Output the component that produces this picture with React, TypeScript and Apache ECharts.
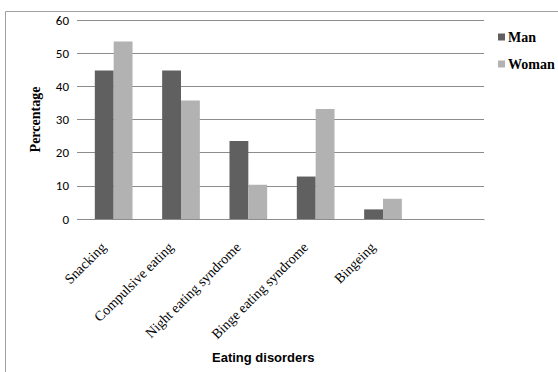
import React, { useEffect, useRef } from "react";
import * as echarts from "echarts";

const categories = ["Snacking", "Compulsive eating", "Night eating syndrome", "Binge eating syndrome", "Bingeing", ""];
const manValues = [44.8, 44.8, 23.5, 12.8, 2.9, null];
const womanValues = [53.5, 35.7, 10.3, 33.2, 6.1, null];
const seriesNames = ["Man", "Woman"];

export default function App() {
  const ref = useRef<HTMLDivElement>(null);
  useEffect(() => {
    const chart = echarts.init(ref.current!, null, { renderer: "svg" });
    chart.setOption({
      animation: false,
      backgroundColor: "#ffffff",
      grid: { left: 80, right: 74, top: 20, bottom: 153, containLabel: false },
      legend: {
        orient: "vertical",
        left: 493,
        top: 25,
        itemWidth: 7,
        itemHeight: 7,
        itemGap: 13,
        icon: "rect",
        data: seriesNames,
        textStyle: { fontFamily: "Liberation Serif", fontWeight: "bold", fontSize: 14, color: "#000", padding: [0, 0, 0, -2] },
      },
      xAxis: {
        type: "category",
        data: categories,
        axisLine: { show: true, lineStyle: { color: "#8c8c8c", width: 1 } },
        axisTick: { show: false },
        axisLabel: {
          rotate: 45,
          interval: 0,
          fontFamily: "Liberation Serif",
          fontSize: 14,
          color: "#000",
          margin: 16,
          padding: [0, 14, 0, 0],
        },
      },
      yAxis: {
        type: "value",
        min: 0,
        max: 60,
        interval: 10,
        name: "Percentage",
        nameLocation: "middle",
        nameGap: 38,
        nameTextStyle: { fontFamily: "Liberation Serif", fontWeight: "bold", fontSize: 14, color: "#000" },
        axisLine: { show: false },
        axisTick: { show: true, length: 3, lineStyle: { color: "#8c8c8c" } },
        splitLine: { lineStyle: { color: "#8c8c8c", width: 1 } },
        axisLabel: { fontFamily: "Carlito, 'Liberation Sans', sans-serif", fontSize: 13, color: "#000", margin: 11 },
      },
      graphic: [
        { type: "line", shape: { x1: 5.5, y1: 11.5, x2: 558, y2: 11.5 }, style: { stroke: "#a0a0a0", lineWidth: 1 } },
        { type: "line", shape: { x1: 5.5, y1: 11.5, x2: 5.5, y2: 372 }, style: { stroke: "#a0a0a0", lineWidth: 1 } },
        {
          type: "text",
          left: 212,
          top: 351,
          style: { text: "Eating disorders", font: "bold 13px 'Liberation Sans', sans-serif", fill: "#000" },
        },
      ],
      series: [
        {
          name: seriesNames[0],
          type: "bar",
          data: manValues,
          barGap: "0%",
          barCategoryGap: "44%",
          itemStyle: { color: "#606060" },
        },
        {
          name: seriesNames[1],
          type: "bar",
          data: womanValues,
          barGap: "0%",
          barCategoryGap: "44%",
          itemStyle: { color: "#b2b2b2" },
        },
      ],
    });
    return () => chart.dispose();
  }, []);
  return <div ref={ref} style={{ width: 558, height: 372, position: "absolute", left: 0, top: 0 }} />;
}
